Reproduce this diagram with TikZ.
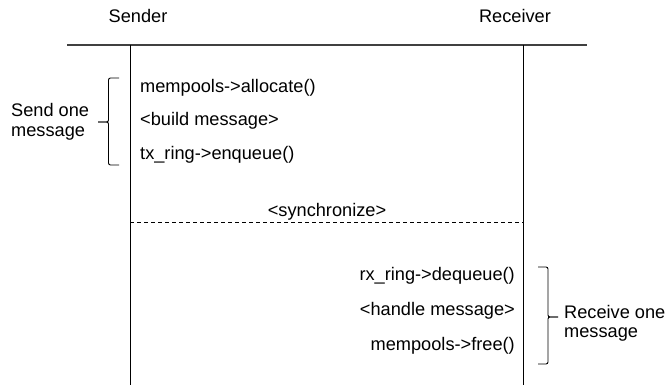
\documentclass[tikz,border=0pt]{standalone}
\usepackage{fontspec}
\setmainfont{Liberation Sans}
\begin{document}
\begin{tikzpicture}[x=1pt,y=-1pt,
  lbl/.style={inner sep=0pt,font=\fontsize{18.2}{22}\selectfont},
  life/.style={line width=1pt,black},
  brk/.style={line width=0.9pt,black,rounded corners=2pt}]
\useasboundingbox (0,0) rectangle (669,385);
% titles
\node[lbl,anchor=base] (snd) at (138,23) {Sender};
\node[lbl,anchor=base] (rcv) at (515,23) {Receiver};
% header line
\coordinate (hl) at (67,45);
\coordinate (hr) at (587,45);
\draw[line width=1.3pt,black!75] (hl) -- (hr);
% lifelines
\coordinate (s0) at (130,45);
\coordinate (s1) at (130,385);
\coordinate (r0) at (523,45);
\coordinate (r1) at (523,385);
\draw[life] (s0) -- (s1);
\draw[life] (r0) -- (r1);
% sender actions
\node[lbl,anchor=base west] (a1) at (140,93) {mempools->allocate()};
\node[lbl,anchor=base west] (a2) at (140,126) {<build message>};
\node[lbl,anchor=base west] (a3) at (140,160) {tx\_ring->enqueue()};
% sender bracket
\draw[brk] (119,78) -- (108.5,78) -- (108.5,122) -- (98,122);
\draw[brk] (98,122) -- (108.5,122) -- (108.5,165) -- (119,165);
\node[lbl,anchor=base west] (s1t) at (11,117) {Send one};
\node[lbl,anchor=base west] (s2t) at (11,137) {message};
% synchronize
\coordinate (d0) at (130,222);
\coordinate (d1) at (523,222);
\draw[line width=0.8pt,dash pattern=on 4pt off 3pt] (d0) -- (d1);
\node[lbl,anchor=base] (sync) at (327,216) {<synchronize>};
% receiver actions
\node[lbl,anchor=base east] (c1) at (515,280) {rx\_ring->dequeue()};
\node[lbl,anchor=base east] (c2) at (515,315) {<handle message>};
\node[lbl,anchor=base east] (c3) at (515,350) {mempools->free()};
% receiver bracket
\draw[brk] (538,267) -- (548,267) -- (548,317) -- (558,317);
\draw[brk] (558,317) -- (548,317) -- (548,364) -- (538,364);
\node[lbl,anchor=base west] (r1t) at (564,318) {Receive one};
\node[lbl,anchor=base west] (r2t) at (564,337) {message};
\end{tikzpicture}
\end{document}
